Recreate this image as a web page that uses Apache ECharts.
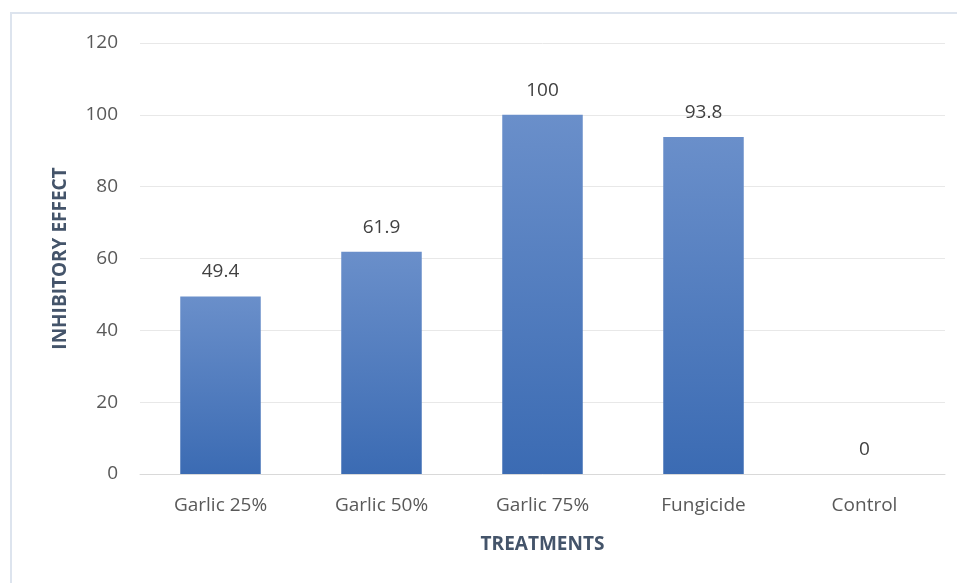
<!DOCTYPE html>
<html>
<head>
<meta charset="utf-8">
<script src="https://cdn.jsdelivr.net/npm/echarts@6/dist/echarts.min.js"></script>
<style>
  html, body { margin: 0; padding: 0; background: #fff; }
  #frame {
    position: absolute; left: 10px; top: 12px; right: 0; bottom: 0;
    border-top: 2px solid #dde4ee; border-left: 2px solid #dde4ee;
  }
  #chart { position: absolute; left: 0; top: 0; width: 957px; height: 583px; }
</style>
</head>
<body>
<div id="frame"></div>
<div id="chart"></div>
<script>
const categories = ["Garlic 25%", "Garlic 50%", "Garlic 75%", "Fungicide", "Control"]
const values = [49.4, 61.9, 100, 93.8, 0]
const yTicks = { min: 0, max: 120, interval: 20 }

const chart = echarts.init(document.getElementById("chart"), null, { renderer: "canvas" })

const font = "'Open Sans', 'Noto Sans', sans-serif"

chart.setOption({
  animation: false,
  grid: { left: 140, right: 12, top: 43, bottom: 109 },
  xAxis: {
    type: "category",
    data: categories,
    name: "TREATMENTS",
    nameLocation: "middle",
    nameGap: 61,
    nameTextStyle: { fontFamily: font, fontWeight: "bold", fontSize: 19, color: "#44546a" },
    axisLine: { lineStyle: { color: "#d9d9d9" } },
    axisTick: { show: false },
    axisLabel: { fontFamily: font, fontSize: 19, color: "#595959", margin: 22 },
  },
  yAxis: {
    type: "value",
    min: yTicks.min,
    max: yTicks.max,
    interval: yTicks.interval,
    name: "INHIBITORY EFFECT",
    nameLocation: "middle",
    nameGap: 70,
    nameTextStyle: { fontFamily: font, fontWeight: "bold", fontSize: 19, color: "#44546a" },
    axisLine: { show: false },
    axisTick: { show: false },
    axisLabel: { fontFamily: font, fontSize: 19, color: "#595959", margin: 22 },
    splitLine: { lineStyle: { color: "#e8e8e8" } },
  },
  series: [
    {
      type: "bar",
      data: values,
      barWidth: "50%",
      itemStyle: {
        color: new echarts.graphic.LinearGradient(0, 0, 0, 1, [
          { offset: 0, color: "#6a8fca" },
          { offset: 1, color: "#3b6bb3" },
        ]),
      },
      label: {
        show: true,
        position: "top",
        distance: 15,
        fontFamily: font,
        fontSize: 19,
        color: "#404040",
      },
    },
  ],
})
</script>
</body>
</html>
